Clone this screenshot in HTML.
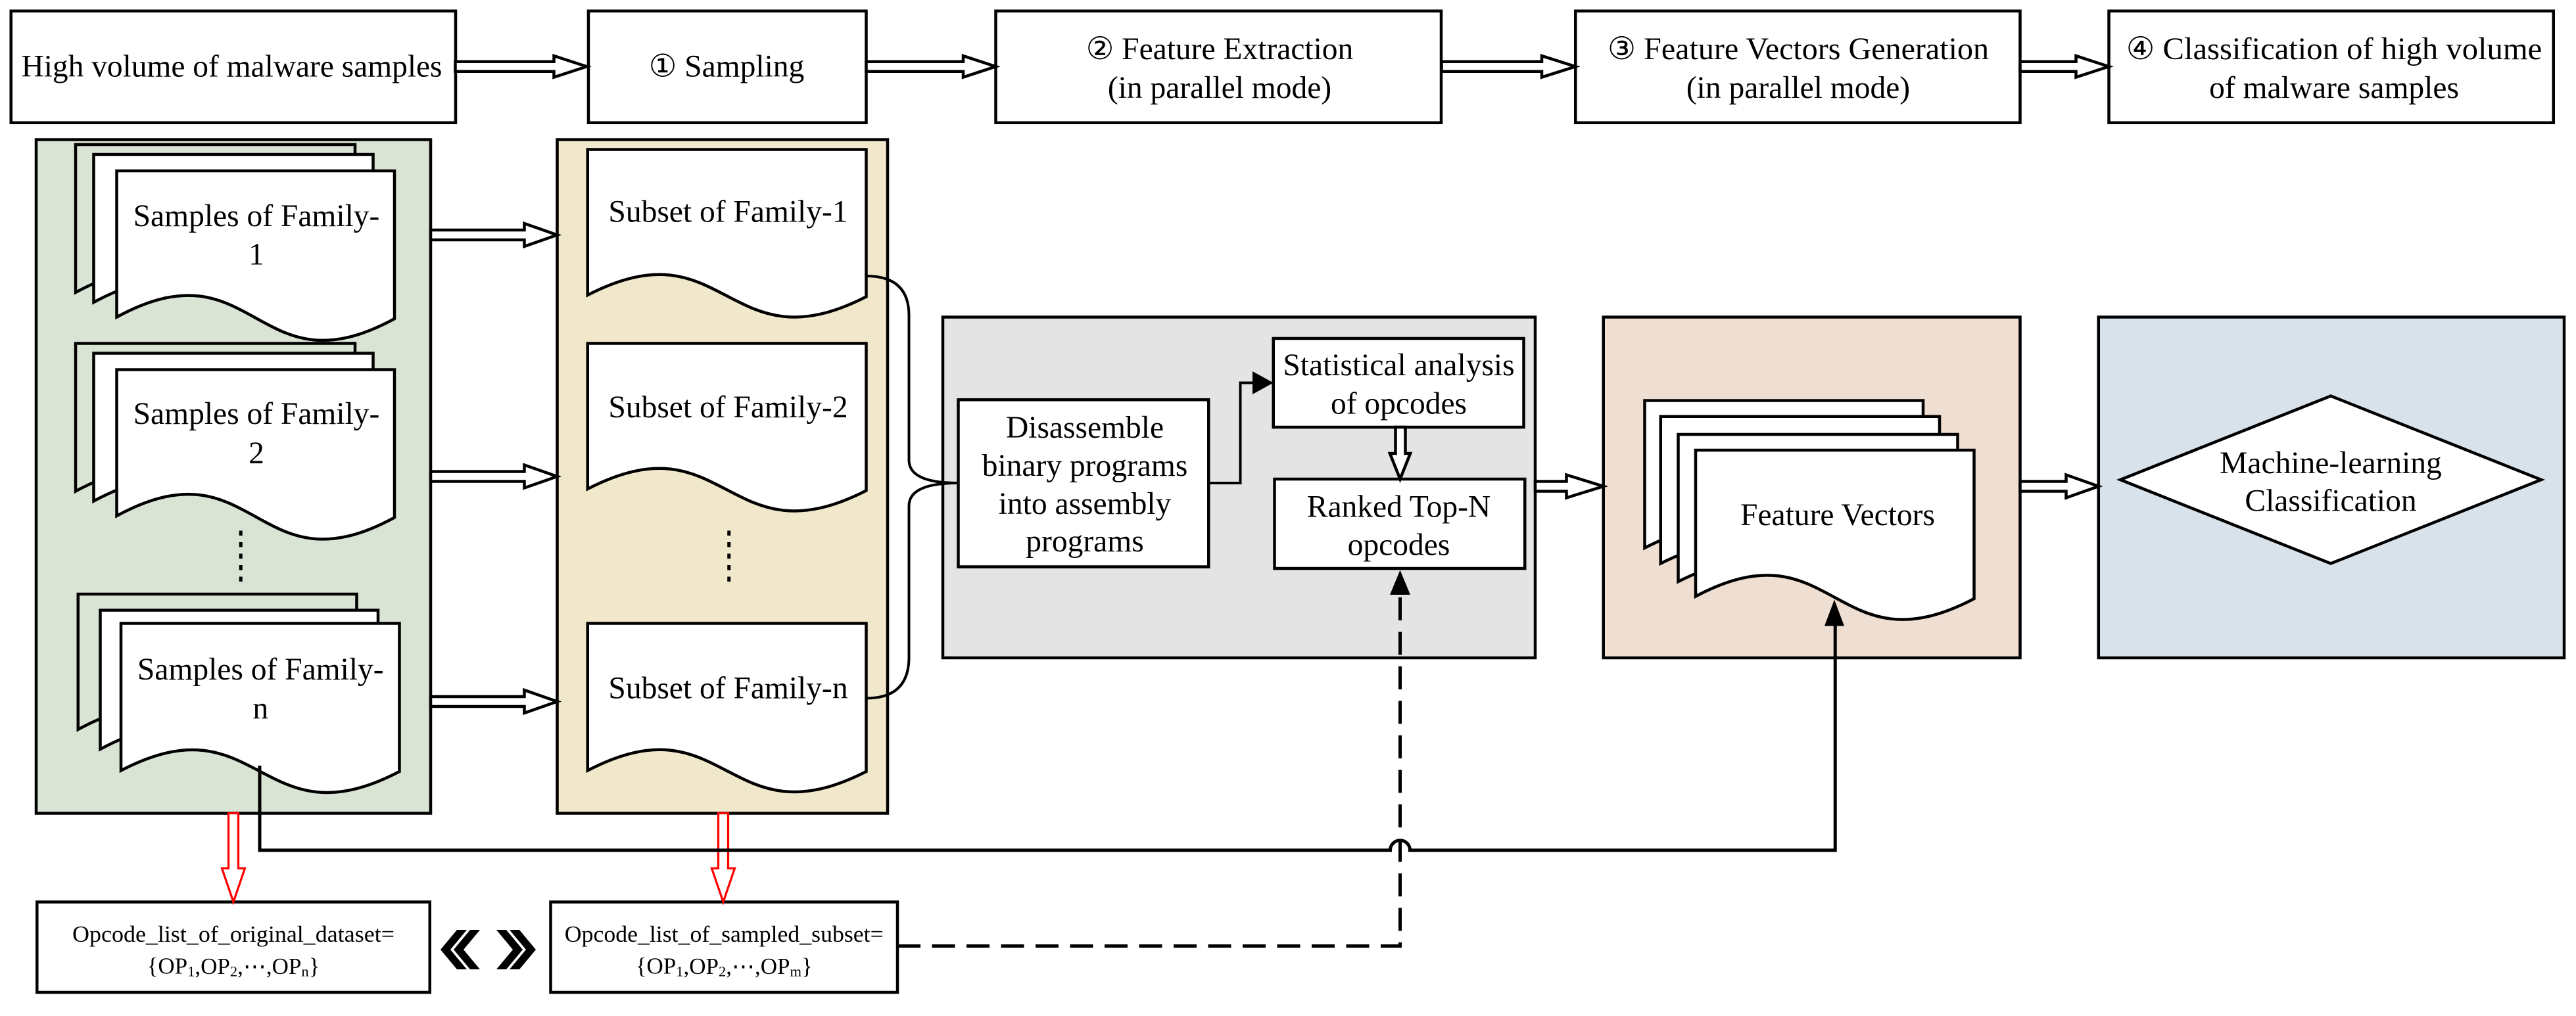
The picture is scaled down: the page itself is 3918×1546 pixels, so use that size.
<!DOCTYPE html>
<html><head><meta charset="utf-8"><style>
html,body{margin:0;padding:0;background:#fff;}
svg{display:block;}
text{font-family:"Liberation Serif","DejaVu Serif",serif;fill:#000;}
</style></head><body>
<svg width="3918" height="1546" viewBox="0 0 1567.2 618.4" xmlns="http://www.w3.org/2000/svg">
<g stroke="#000" stroke-width="1.8" fill="#fff">
<!-- top boxes -->
<rect x="6.7" y="6.7" width="270.5" height="68"/>
<rect x="358" y="6.7" width="169" height="68"/>
<rect x="605.8" y="6.7" width="271" height="68"/>
<rect x="958.5" y="6.7" width="270.5" height="68"/>
<rect x="1283" y="6.7" width="270.5" height="68"/>
<!-- panels -->
<rect x="22" y="85" width="240" height="410" fill="#dae4d4"/>
<rect x="339" y="85" width="201" height="410" fill="#f1e7ca"/>
<rect x="573.6" y="193" width="360.4" height="207.4" fill="#e4e4e4"/>
<rect x="975.5" y="193" width="253.5" height="207.4" fill="#efded2"/>
<rect x="1276.7" y="193" width="283.3" height="207.4" fill="#d8e2ea"/>
<!-- family 1 stack -->
<path d="M46,88H216V178C131,224 131,132 46,178Z" fill="none"/>
<path d="M57,94H227V184C142,230 142,138 57,184Z"/>
<path d="M71,104H240V194C155.5,240 155.5,147 71,193Z"/>
<!-- family 2 stack -->
<path d="M46,209H216V299C131,345 131,253 46,299Z" fill="none"/>
<path d="M57,215H227V305C142,351 142,259 57,305Z"/>
<path d="M71,225H240V315C155.5,361 155.5,268 71,314Z"/>
<!-- family n stack -->
<path d="M47.5,361.6H217V444C132,490 132,398 47.5,444Z" fill="none"/>
<path d="M61,371.4H230V456C146,502 146,410 61,456Z"/>
<path d="M73.6,379.4H243V469.6C158,514 158,425 73.6,469Z"/>
<!-- subsets -->
<path d="M357.5,91H527V180.6C442,224 442,136 357.5,179.6Z"/>
<path d="M357.5,209H527V298.6C442,342 442,254 357.5,297.6Z"/>
<path d="M357.5,379.4H527V469.6C442,513 442,425 357.5,469Z"/>
<!-- inner boxes -->
<rect x="583" y="243.3" width="152.3" height="101.7"/>
<rect x="774.7" y="206" width="152.3" height="54"/>
<rect x="775.4" y="291.6" width="152.3" height="54.4"/>
<!-- feature vector stack -->
<path d="M1000.6,243.8H1170V333C1085,378 1085,290 1000.6,333.5Z"/>
<path d="M1010.3,253.5H1180V343C1095,388 1095,300 1010.3,343Z"/>
<path d="M1021,264.4H1191V354C1106,399 1106,311 1021,354Z"/>
<path d="M1031.6,274H1201V364.4C1116,409 1116,318 1031.6,363Z"/>
<!-- diamond -->
<polygon points="1418,241 1546,292 1418,343 1290,292"/>
<!-- bottom boxes -->
<rect x="22.5" y="549" width="239" height="55"/>
<rect x="335" y="549" width="211" height="55"/>
<!-- hollow arrows -->
<polygon points="277,37.5 337,37.5 337,34 357,40.5 337,47 337,43.5 277,43.5"/>
<polygon points="527,37.5 586,37.5 586,34 605.8,40.5 586,47 586,43.5 527,43.5"/>
<polygon points="877,37.5 938,37.5 938,34 958.5,40.5 938,47 938,43.5 877,43.5"/>
<polygon points="1229,37.5 1263,37.5 1263,34 1283,40.5 1263,47 1263,43.5 1229,43.5"/>
<polygon points="262,140 319,140 319,136 339,143 319,150 319,146 262,146"/>
<polygon points="262,287 319,287 319,283 339,290 319,297 319,293 262,293"/>
<polygon points="262,424 319,424 319,420 339,427 319,434 319,430 262,430"/>
<polygon points="934,293 953,293 953,289 975.5,296 953,303 953,299 934,299"/>
<polygon points="1229,293 1257,293 1257,289 1276.7,296 1257,303 1257,299 1229,299"/>
<polygon points="849,260 855,260 855,276 858,276 851.8,291.6 845.6,276 849,276"/>
</g>
<!-- red arrows -->
<g stroke="#f00" stroke-width="1.3" fill="#fff">
<polygon points="139,495 145,495 145,528.5 149,528.5 142,549 135,528.5 139,528.5"/>
<polygon points="437,495 443,495 443,528.5 447,528.5 440,549 433,528.5 437,528.5"/>
</g>
<!-- connectors -->
<g stroke="#000" stroke-width="1.6" fill="none">
<path d="M527,168 Q553,168 553,192 L553,280 Q553,294 583,294"/>
<path d="M527,425 Q553,425 553,400 L553,308 Q553,294 583,294"/>
<path d="M735.3,294 H754.6 V233 H762"/>
</g>
<polygon points="762,226 774.7,233 762,240" fill="#000"/>
<g stroke="#000" stroke-width="2" fill="none">
<path d="M158,466 V517.5 H845.8 A6,6 0 0 1 857.8,517.5 H1116.5 V380"/>
</g>
<polygon points="1116,365 1122,381 1110,381" fill="#000"/>
<path d="M546,575.8 H851.8 V362" stroke="#000" stroke-width="2" fill="none" stroke-dasharray="14,7"/>
<polygon points="851.8,347 858,362 845.6,362" fill="#000"/>
<!-- dotted -->
<line x1="146.5" y1="323" x2="146.5" y2="358" stroke="#000" stroke-width="2" stroke-dasharray="3,4"/>
<line x1="443.5" y1="323" x2="443.5" y2="358" stroke="#000" stroke-width="2" stroke-dasharray="3,4"/>
<!-- texts -->
<g font-size="19" text-anchor="middle" dominant-baseline="central">
<text x="141" y="40.5" textLength="256" lengthAdjust="spacingAndGlyphs">High volume of malware samples</text>
<text x="442" y="40.5">① Sampling</text>
<text x="742" y="30">② Feature Extraction</text>
<text x="742" y="53.6">(in parallel mode)</text>
<text x="1094" y="30" textLength="232" lengthAdjust="spacingAndGlyphs">③ Feature Vectors Generation</text>
<text x="1094" y="53.6">(in parallel mode)</text>
<text x="1420" y="30" textLength="253" lengthAdjust="spacingAndGlyphs">④ Classification of high volume</text>
<text x="1420" y="53.6">of malware samples</text>
<text x="156" y="131.6">Samples of Family-</text>
<text x="156" y="155">1</text>
<text x="156" y="252">Samples of Family-</text>
<text x="156" y="276">2</text>
<text x="158.5" y="407.6">Samples of Family-</text>
<text x="158.5" y="431.4">n</text>
<text x="443" y="129">Subset of Family-1</text>
<text x="443" y="248">Subset of Family-2</text>
<text x="443" y="419">Subset of Family-n</text>
<text x="660" y="260.3">Disassemble</text>
<text x="660" y="283.6">binary programs</text>
<text x="660" y="306.8">into assembly</text>
<text x="660" y="329.6">programs</text>
<text x="851" y="222.3">Statistical analysis</text>
<text x="851" y="245.7">of opcodes</text>
<text x="851" y="308.5">Ranked Top-N</text>
<text x="851" y="331.7">opcodes</text>
<text x="1118" y="313.6">Feature Vectors</text>
<text x="1418" y="282">Machine-learning</text>
<text x="1418" y="305">Classification</text>
</g>
<g font-size="14" text-anchor="middle" dominant-baseline="central">
<text x="142" y="568.5" textLength="196" lengthAdjust="spacingAndGlyphs">Opcode_list_of_original_dataset=</text>
<text x="142" y="588">{OP<tspan font-size="9" dy="3">1</tspan><tspan dy="-3">,OP</tspan><tspan font-size="9" dy="3">2</tspan><tspan dy="-3">,⋯,OP</tspan><tspan font-size="9" dy="3">n</tspan><tspan dy="-3">}</tspan></text>
<text x="440.5" y="568.5" textLength="194" lengthAdjust="spacingAndGlyphs">Opcode_list_of_sampled_subset=</text>
<text x="440.5" y="588">{OP<tspan font-size="9" dy="3">1</tspan><tspan dy="-3">,OP</tspan><tspan font-size="9" dy="3">2</tspan><tspan dy="-3">,⋯,OP</tspan><tspan font-size="9" dy="3">m</tspan><tspan dy="-3">}</tspan></text>
</g>
<g fill="#000">
<polygon points="278,566 284,566 274,578 284,590 278,590 268,578"/>
<polygon points="286,566 292,566 282,578 292,590 286,590 276,578"/>
<polygon points="302,566 308,566 318,578 308,590 302,590 312,578"/>
<polygon points="310,566 316,566 326,578 316,590 310,590 320,578"/>
</g>
</svg>
</body></html>
